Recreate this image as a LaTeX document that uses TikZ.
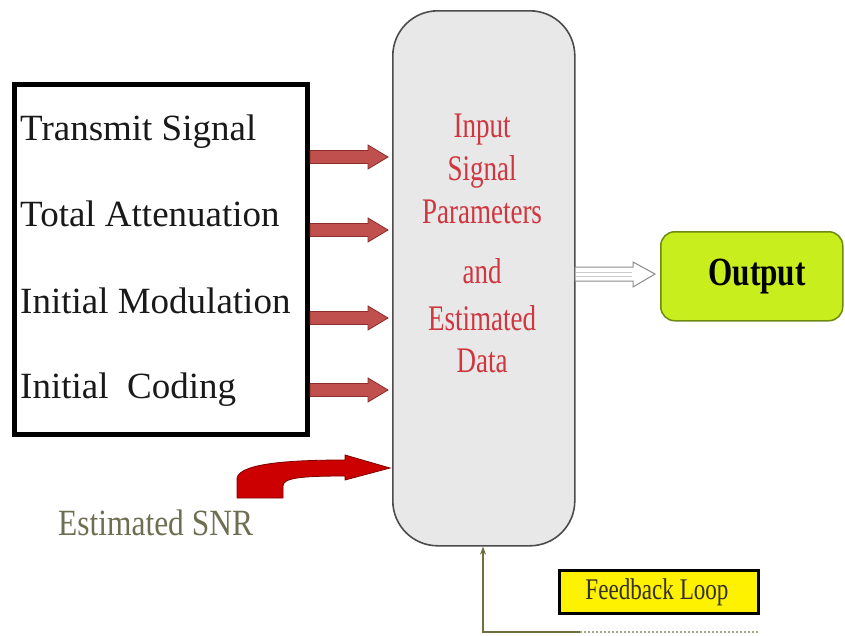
\documentclass[tikz,border=0pt]{standalone}
\usepackage{fontspec}
\setmainfont{Liberation Serif}
\usetikzlibrary{arrows.meta}
\definecolor{arrred}{HTML}{C0504D}
\definecolor{arrredd}{HTML}{8A2E2B}
\definecolor{txtred}{HTML}{D0363F}
\definecolor{snrcol}{HTML}{6E6E52}
\definecolor{boxgray}{HTML}{E8E8E8}
\definecolor{outgreen}{HTML}{C8EE1E}
\definecolor{outgreend}{HTML}{6E8A10}
\definecolor{fbline}{HTML}{6E6E3E}
\definecolor{curvred}{HTML}{CC0000}
\definecolor{curvredd}{HTML}{7A0000}
\tikzset{
  lefttext/.style={anchor=base west, inner sep=0pt, font=\fontsize{37}{40}\selectfont, text=black!90},
  redtext/.style={anchor=base, inner sep=0pt, text=txtred, xscale=0.75, font=\fontsize{36}{40}\selectfont},
  fatarrow/.style={fill=arrred, draw=arrredd, line width=0.8pt},
}
\begin{document}
\begin{tikzpicture}[x=1pt,y=-1pt]
\useasboundingbox (0,0) rectangle (845,635);
% left box
\node[draw=black, line width=4.5pt, minimum width=293pt, minimum height=350pt, anchor=north west, inner sep=0pt] (inbox) at (12,82) {};
\node[lefttext] (t1) at (20,140) {Transmit Signal};
\node[lefttext] (t2) at (20,226) {Total Attenuation};
\node[lefttext] (t3) at (20,313) {Initial Modulation};
\node[lefttext] (t4) at (20,398) {Initial\ \ Coding};
% middle box
\node[draw=black!70, line width=1.6pt, fill=boxgray, rounded corners=45pt, minimum width=182pt, minimum height=535pt, anchor=north west, inner sep=0pt] (mid) at (392,10) {};
\node[redtext] (m1) at (482,137) {Input};
\node[redtext] (m2) at (482,180) {Signal};
\node[redtext] (m3) at (482,223) {Parameters};
\node[redtext] (m4) at (482,283) {and};
\node[redtext] (m5) at (482,330) {Estimated};
\node[redtext] (m6) at (482,372) {Data};
% red block arrows
\foreach \yy in {157,230,318,390}{
  \draw[fatarrow] (310,\yy-6.5) -- (368,\yy-6.5) -- (368,\yy-12) -- (388,\yy) -- (368,\yy+12) -- (368,\yy+6.5) -- (310,\yy+6.5) -- cycle;
}
% output box
\node[draw=outgreend, line width=1.5pt, fill=outgreen, rounded corners=14pt, minimum width=182pt, minimum height=89pt, anchor=north west, inner sep=0pt] (out) at (660,231) {};
\node[font=\bfseries\fontsize{40}{44}\selectfont, xscale=0.78, inner sep=0pt] (outt) at (757,277) {Output};
% hollow output arrow
\draw[draw=black!45, fill=white, line width=1pt] (575,267) -- (633,267) -- (633,262) -- (655,274) -- (633,287) -- (633,281) -- (575,281) -- cycle;
\draw[black!20, line width=1pt] (576,272) -- (632,272);
\draw[black!20, line width=1pt] (576,276) -- (632,276);
% curved red arrow
\draw[fill=curvred, draw=curvredd, line width=0.8pt]
  (237,498) -- (237,478) .. controls (240,462) and (300,460) .. (345,460)
  -- (345,455) -- (390,468) -- (345,480) -- (345,476)
  .. controls (300,476) and (283,478) .. (283,486) -- (283,498) -- cycle;
\node[anchor=base west, inner sep=0pt, text=snrcol, xscale=0.85, font=\fontsize{37}{40}\selectfont] (snr) at (58,535) {Estimated SNR};
% feedback
\node[draw=black, line width=2.5pt, fill=yellow, minimum width=199pt, minimum height=43pt, anchor=north west, inner sep=0pt] (fb) at (558,569) {};
\node[inner sep=0pt, text=black!85!olive, xscale=0.77, font=\fontsize{30}{34}\selectfont] (fbt) at (657,592) {Feedback Loop};
\coordinate (c1) at (483,632);
\coordinate (c2) at (580,632);
\coordinate (c3) at (758,632);
\draw[fbline, line width=2pt, -{Stealth[length=8pt,width=6pt]}] (c2) -- (c1) -- (mid.south -| c1);
\draw[fbline!60, line width=2pt, dotted] (c2) -- (c3);
\end{tikzpicture}
\end{document}
